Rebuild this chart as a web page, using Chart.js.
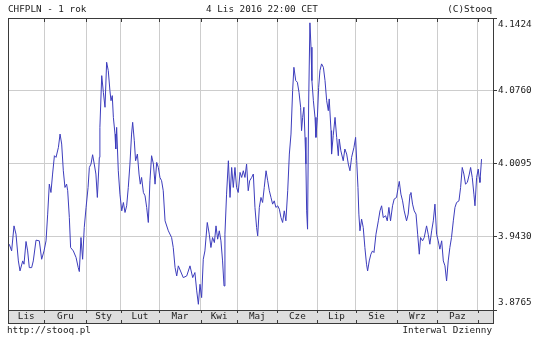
<!DOCTYPE html>
<html lang="pl">
<head>
<meta charset="UTF-8">
<title>CHFPLN - 1 rok</title>
<script src="https://cdn.jsdelivr.net/npm/chart.js"></script>
<style>
  html, body { margin: 0; padding: 0; background: #fff; }
  #chart { display: block; }
</style>
</head>
<body>
<canvas id="chart" width="540" height="341"></canvas>
<script>
// trading-day index counted from 4 Nov 2015, and the CHF/PLN rate
const dayIdx = [
  0.7, 2.0, 3.3, 4.4, 5.7, 6.6, 8.1, 8.8, 9.9, 10.8, 11.7, 13.0, 13.9, 15.4, 17.2, 18.5, 19.8, 20.9,
  21.8, 22.7, 23.6, 24.5, 25.5, 26.4, 27.7, 28.6, 29.5, 30.4, 31.3, 32.2, 32.8, 33.7, 34.4, 35.9,
  37.4, 38.6, 39.2, 40.1, 41.0, 41.9, 42.9, 44.0, 44.7, 45.6, 46.5, 47.4, 48.3, 49.1, 50.2, 50.5,
  51.5, 52.4, 53.3, 54.2, 55.1, 56.0, 56.6, 57.3, 57.9, 58.8, 59.2, 59.7, 60.6, 61.5, 62.5, 63.4,
  64.3, 65.2, 66.1, 67.0, 67.9, 68.5, 69.4, 70.1, 71.1, 72.0, 72.7, 73.4, 74.4, 75.3, 76.2, 77.1,
  78.0, 78.9, 79.9, 80.8, 81.7, 82.6, 83.5, 84.4, 85.3, 86.3, 88.1, 89.9, 90.8, 91.8, 92.7, 93.6,
  96.3, 98.2, 100.0, 101.5, 102.7, 103.7, 104.6, 105.5, 106.4, 107.3, 108.2, 109.5, 110.6, 111.5,
  112.4, 113.4, 114.3, 115.2, 116.1, 117.0, 117.9, 118.7, 119.2, 120.1, 121.1, 122.0, 122.9, 123.8,
  124.7, 125.6, 126.5, 127.5, 128.4, 129.3, 130.2, 131.1, 132.0, 132.8, 133.9, 134.8, 135.7, 136.6,
  137.2, 138.1, 139.0, 139.9, 140.8, 141.8, 142.7, 143.6, 144.5, 145.4, 146.3, 147.2, 148.2, 149.1,
  150.0, 150.9, 151.8, 152.7, 153.7, 154.6, 155.5, 156.4, 157.1, 158.1, 159.0, 159.9, 160.8, 161.3,
  161.9, 162.6, 163.2, 163.7, 164.1, 164.6, 165.2, 165.9, 166.5, 167.0, 167.8, 168.7, 169.2, 170.0,
  170.7, 171.4, 172.3, 173.3, 174.2, 175.1, 176.0, 176.5, 177.5, 177.8, 178.7, 179.7, 180.6, 181.5,
  182.0, 182.9, 184.2, 185.1, 186.1, 187.0, 187.9, 188.8, 190.1, 191.0, 191.6, 192.3, 192.8, 193.4,
  194.3, 195.2, 196.1, 197.0, 197.6, 198.5, 199.4, 200.3, 201.1, 202.2, 203.5, 204.4, 205.3, 206.2,
  207.5, 208.4, 209.3, 210.2, 211.3, 212.2, 213.5, 214.4, 215.0, 215.9, 216.8, 217.7, 219.0, 219.9,
  220.9, 221.4, 222.3, 223.2, 224.2, 225.1, 226.0, 226.7, 227.8, 228.7, 230.0, 230.9, 231.8, 232.8,
  233.7, 234.6, 235.5, 236.4, 237.3, 238.3, 239.2, 240.1, 241.0, 241.9, 242.8, 243.7, 244.7, 245.6,
  246.5, 247.8, 248.7, 249.6, 250.5, 251.4, 252.4, 253.5, 254.2, 255.1, 256.0, 256.6, 257.5, 258.4,
  258.9, 259.3, 260.2
];
const rate = [
  3.9364, 3.9303, 3.9531, 3.9455, 3.9212, 3.9121, 3.9212, 3.9182, 3.9389, 3.9303, 3.9151, 3.9151, 3.9212, 3.9401, 3.9395, 3.9227, 3.9303, 3.9395,
  3.9638, 3.9911, 3.9835, 4.0003, 4.0170, 4.0155, 4.0246, 4.0367, 4.0276, 4.0033, 3.9881, 3.9911, 3.9851, 3.9607, 3.9334, 3.9303,
  3.9243, 3.9151, 3.9115, 3.9425, 3.9227, 3.9516, 3.9699, 3.9881, 4.0063, 4.0094, 4.0179, 4.0094, 4.0003, 3.9790, 4.0155, 4.0428,
  4.0899, 4.0747, 4.0611, 4.1021, 4.0945, 4.0763, 4.0671, 4.0717, 4.0519, 4.0367, 4.0231, 4.0428, 4.0033, 3.9820, 3.9668, 3.9744,
  3.9653, 3.9714, 3.9881, 4.0094, 4.0367, 4.0474, 4.0307, 4.0124, 4.0185, 4.0003, 3.9911, 3.9972, 3.9835, 3.9805, 3.9699, 3.9562,
  3.9942, 4.0170, 4.0094, 3.9911, 4.0109, 4.0063, 3.9972, 3.9942, 3.9851, 3.9577, 3.9486, 3.9425, 3.9334, 3.9151, 3.9075, 3.9167,
  3.9060, 3.9075, 3.9167, 3.9060, 3.9106, 3.8939, 3.8817, 3.8999, 3.8878, 3.9227, 3.9303, 3.9562, 3.9455, 3.9334,
  3.9425, 3.9379, 3.9531, 3.9410, 3.9486, 3.9395, 3.9212, 3.8984, 3.9455, 3.9820, 4.0124, 3.9790, 4.0063, 3.9881,
  4.0063, 3.9881, 3.9835, 4.0018, 3.9972, 4.0033, 3.9972, 4.0094, 3.9851, 3.9942, 3.9972, 4.0003, 3.9699, 3.9516,
  3.9440, 3.9699, 3.9790, 3.9744, 3.9881, 4.0033, 3.9942, 3.9851, 3.9790, 3.9729, 3.9759, 3.9699, 3.9714, 3.9683,
  3.9607, 3.9562, 3.9668, 3.9577, 3.9851, 4.0185, 4.0367, 4.0763, 4.0975, 4.0854, 4.0839, 4.0747, 4.0611, 4.0398,
  4.0519, 4.0611, 4.0337, 4.0094, 3.9668, 3.9501, 4.0641, 4.1380, 4.1158, 4.0854, 4.0671, 4.0519, 4.0337, 4.0519,
  4.0793, 4.0945, 4.1006, 4.0975, 4.0854, 4.0671, 4.0580, 4.0687, 4.0398, 4.0185, 4.0352, 4.0519, 4.0337, 4.0170,
  4.0322, 4.0215, 4.0124, 4.0231, 4.0185, 4.0094, 4.0033, 4.0155, 4.0246, 4.0337, 4.0124, 3.9881, 3.9638, 3.9486,
  3.9592, 3.9516, 3.9334, 3.9182, 3.9121, 3.9212, 3.9273, 3.9303, 3.9288, 3.9455, 3.9577, 3.9668, 3.9714, 3.9607,
  3.9623, 3.9577, 3.9699, 3.9577, 3.9714, 3.9775, 3.9790, 3.9881, 3.9936, 3.9820, 3.9759, 3.9668, 3.9577, 3.9638,
  3.9820, 3.9835, 3.9729, 3.9668, 3.9638, 3.9455, 3.9273, 3.9425, 3.9395, 3.9425, 3.9531, 3.9455, 3.9364, 3.9486,
  3.9577, 3.9729, 3.9455, 3.9395, 3.9319, 3.9395, 3.9212, 3.9167, 3.9030, 3.9212, 3.9334, 3.9425, 3.9577, 3.9699,
  3.9744, 3.9759, 3.9881, 4.0063, 4.0003, 3.9911, 3.9927, 4.0003, 4.0063, 3.9972, 3.9820, 3.9714, 3.9972, 4.0048,
  3.9972, 3.9927, 4.0139
];

const months = ['Lis', 'Gru', 'Sty', 'Lut', 'Mar', 'Kwi', 'Maj', 'Cze', 'Lip', 'Sie', 'Wrz', 'Paz'];
const monthStarts = [0, 20, 43, 62, 83, 106, 126, 148, 170, 191, 214, 236, 258];
const yTicks = [3.8765, 3.9430, 4.0095, 4.0760, 4.1424];
const xMax = 266.5;

const titleLeft = 'CHFPLN - 1 rok';
const titleMid = '4 Lis 2016 22:00 CET';
const titleRight = '(C)Stooq';
const footLeft = 'http://stooq.pl';
const footRight = 'Interwal Dzienny';

const FONT = '9.3px "DejaVu Sans Mono", "Liberation Mono", monospace';
const BAND = 13;

// month boundaries get a grid line, month centres get the label
const gridSet = new Set(monthStarts.slice(1));
const labelAt = new Map();
months.forEach((m, i) => {
  const c = (monthStarts[i] + monthStarts[i + 1]) / 2;
  labelAt.set(c, m);
});

const stooqFrame = {
  id: 'stooqFrame',
  beforeDraw(chart) {
    const { ctx, chartArea: a } = chart;
    ctx.save();
    ctx.fillStyle = '#fff';
    ctx.fillRect(0, 0, chart.width, chart.height);
    ctx.fillStyle = '#dedede';
    ctx.fillRect(a.left, a.bottom, a.right - a.left, BAND);
    ctx.restore();
  },
  afterDraw(chart) {
    const { ctx, chartArea: a } = chart;
    const x = chart.scales.x;
    ctx.save();
    ctx.strokeStyle = '#3a3a3a';
    ctx.lineWidth = 1;
    ctx.strokeRect(a.left + 0.5, a.top + 0.5, a.right - a.left, a.bottom + BAND - a.top);
    ctx.beginPath();
    ctx.moveTo(a.left, a.bottom + 0.5);
    ctx.lineTo(a.right, a.bottom + 0.5);
    // short ticks at the month boundaries
    monthStarts.slice(1).forEach(m => {
      const px = Math.round(x.getPixelForValue(m)) + 0.5;
      ctx.moveTo(px, a.top);
      ctx.lineTo(px, a.top + 4);
      ctx.moveTo(px, a.bottom);
      ctx.lineTo(px, a.bottom + 3);
      ctx.moveTo(px, a.bottom + BAND);
      ctx.lineTo(px, a.bottom + BAND - 3);
    });
    ctx.stroke();

    ctx.fillStyle = '#222';
    ctx.font = FONT;
    ctx.textBaseline = 'middle';
    ctx.textAlign = 'left';
    ctx.fillText(titleLeft, 8, 10);
    ctx.fillText(footLeft, 7, 331);
    ctx.textAlign = 'center';
    ctx.fillText(titleMid, 262, 10);
    ctx.textAlign = 'right';
    ctx.fillText(titleRight, 492, 10);
    ctx.fillText(footRight, 492, 331);
    ctx.restore();
  }
};

new Chart(document.getElementById('chart'), {
  type: 'line',
  data: {
    datasets: [{
      data: dayIdx.map((d, i) => ({ x: d, y: rate[i] })),
      borderColor: '#3d3dbd',
      borderWidth: 1,
      pointRadius: 0,
      tension: 0
    }]
  },
  options: {
    responsive: false,
    animation: false,
    devicePixelRatio: 1,
    layout: { padding: { top: 18, left: 8, right: 0, bottom: 0 } },
    plugins: { legend: { display: false }, tooltip: { enabled: false } },
    scales: {
      x: {
        type: 'linear',
        min: 0,
        max: xMax,
        afterBuildTicks: s => {
          const vals = [...gridSet, ...labelAt.keys()].sort((p, q) => p - q);
          s.ticks = vals.map(v => ({ value: v }));
        },
        afterFit: s => { s.height = 31; },
        border: { display: false },
        grid: {
          color: c => (c.tick && gridSet.has(c.tick.value)) ? '#cdcdcd' : 'rgba(0,0,0,0)',
          drawTicks: false
        },
        ticks: {
          autoSkip: false,
          maxRotation: 0,
          padding: 1,
          color: '#222',
          font: { family: '"DejaVu Sans Mono", monospace', size: 9.3 },
          callback: v => labelAt.get(v) || ''
        }
      },
      y: {
        position: 'right',
        min: yTicks[0],
        max: yTicks[yTicks.length - 1],
        afterBuildTicks: s => { s.ticks = yTicks.map(v => ({ value: v })); },
        afterFit: s => { s.width = 47; },
        border: { display: false },
        grid: { color: '#cdcdcd', tickColor: '#3a3a3a', tickLength: 4 },
        ticks: {
          padding: 1,
          color: '#222',
          font: { family: '"DejaVu Sans Mono", monospace', size: 9.3, lineHeight: 1.5 },
          callback: v => {
            const s = v.toFixed(4);
            if (v === yTicks[yTicks.length - 1]) return ['', s];
            if (v === yTicks[0]) return [s, ''];
            return s;
          }
        }
      }
    }
  },
  plugins: [stooqFrame]
});
</script>
</body>
</html>
